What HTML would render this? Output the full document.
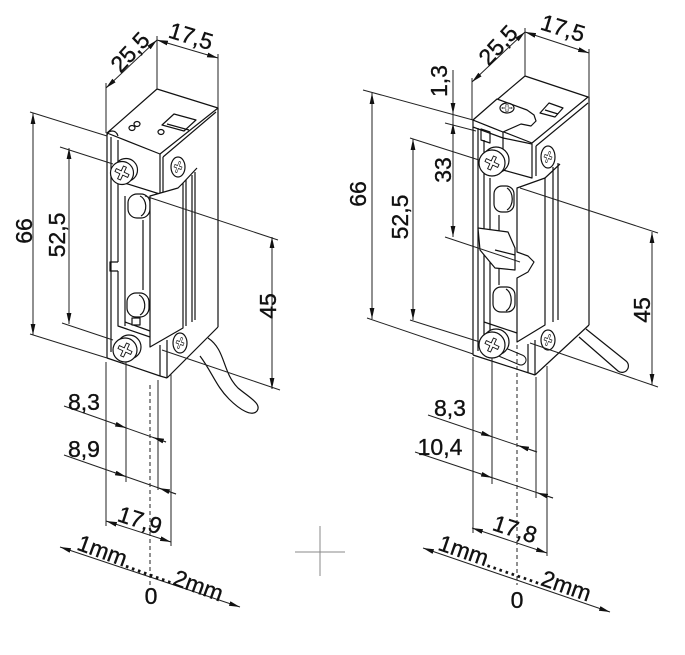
<!DOCTYPE html>
<html><head><meta charset="utf-8"><style>
html,body{margin:0;padding:0;background:#fff;}
svg{display:block;}
text{font-family:"Liberation Sans",Arial,sans-serif;font-size:23px;fill:#111;stroke:#111;stroke-width:0.35;text-anchor:middle;}
.d{stroke:#222;stroke-width:1;fill:none;}
.b{stroke:#111;stroke-width:1.2;fill:none;stroke-linejoin:round;}
.w{fill:#fff;}
</style></head><body>
<svg width="685" height="655" viewBox="0 0 685 655" xmlns="http://www.w3.org/2000/svg">
<defs>
<marker id="ar" markerUnits="userSpaceOnUse" markerWidth="11" markerHeight="6" viewBox="0 0 11 6" refX="11" refY="3" orient="auto-start-reverse"><path d="M0,0.6L11,3L0,5.4Z" fill="#111"/></marker>
<path id="cr" d="M-7,-1.6H-1.6V-7H1.6V-1.6H7V1.6H1.6V7H-1.6V1.6H-7Z" fill="#fff" stroke="#111" stroke-width="0.9"/>
</defs>

<!-- ============ LEFT DEVICE BODY ============ -->
<g class="b">
<line x1="218" y1="108" x2="218" y2="327"/>
<polygon class="w" points="107,133 157,89 218,108 160,154"/>
<line x1="163" y1="157" x2="216" y2="112"/>
<polygon points="162,125 174,114 196,120 184,131"/>
<line x1="167" y1="124" x2="189" y2="130"/>
<ellipse cx="132" cy="128" rx="3" ry="2.5"/>
<ellipse cx="137" cy="124" rx="3" ry="2.5"/>
<ellipse cx="161" cy="132" rx="3" ry="2.5"/>
<line x1="160" y1="154" x2="160" y2="193"/>
<line x1="163" y1="157" x2="163" y2="195"/>
<line x1="118" y1="181" x2="163" y2="195"/>
<line x1="107" y1="133" x2="107" y2="358"/>
<line x1="111" y1="137" x2="111" y2="352"/>
<line x1="118" y1="140" x2="118" y2="262"/>
<line x1="118" y1="271" x2="118" y2="318"/>
<polyline points="118,262 110,262 110,271 118,271"/>
<path d="M107,135 C108,130 116,129 118,136"/>
<line x1="125" y1="196" x2="125" y2="326"/>
<line x1="143" y1="220" x2="143" y2="290"/>
<polyline points="118,318 118,326 150,337"/>
<line x1="125" y1="322" x2="150" y2="331"/>
<rect class="w" x="128" y="194" width="22" height="24" rx="9"/>
<path d="M140,196 C147,199 148,212 141,216"/>
<rect class="w" x="127" y="293" width="22" height="24" rx="9"/>
<path d="M139,295 C146,298 147,311 140,315"/>
<rect class="w" x="132" y="318" width="8" height="7"/>
<polygon class="w" points="150,196 178,188 183,183 183,328 150,347"/>
<line x1="186" y1="180" x2="186" y2="326"/>
<line x1="192" y1="175" x2="192" y2="322"/>
<line x1="195" y1="172" x2="195" y2="320"/>
<line x1="183" y1="183" x2="197" y2="168"/>
<line x1="107" y1="358" x2="160" y2="376"/>
<line x1="160" y1="345" x2="160" y2="376"/>
<line x1="167" y1="340" x2="167" y2="378"/>
<line x1="160" y1="376" x2="167" y2="378"/>
<line x1="167" y1="378" x2="218" y2="327"/>
<circle class="w" cx="126" cy="170" r="11.5"/>
<circle class="w" cx="122" cy="173" r="11.5"/>
<use href="#cr" transform="translate(122 173) rotate(25)"/>
<ellipse class="w" cx="178" cy="167" rx="7" ry="10"/>
<use href="#cr" transform="translate(178 167) rotate(20) scale(0.55 0.8)"/>
<circle class="w" cx="129" cy="347" r="12"/>
<circle class="w" cx="125" cy="350" r="12"/>
<use href="#cr" transform="translate(125 350) rotate(25)"/>
<ellipse class="w" cx="180" cy="343" rx="7" ry="10"/>
<use href="#cr" transform="translate(180 343) rotate(20) scale(0.55 0.8)"/>
<path d="M208,338 C226,350 222,372 238,388 C250,398 262,404 257,411 C252,417 240,410 229,399 C216,386 212,372 200,356"/>
</g>

<!-- ============ RIGHT DEVICE BODY ============ -->
<g class="b">
<line x1="589" y1="97" x2="589" y2="325"/>
<polygon class="w" points="473,120 525,76 588,97 532,143"/>
<line x1="536" y1="146" x2="588" y2="103"/>
<polygon points="540,113 549,103 563,108 555,117"/>
<line x1="545" y1="110" x2="558" y2="114"/>
<polygon class="w" points="503,138 532,144 532,178 503,170"/>
<line x1="536" y1="146" x2="536" y2="176"/>
<polygon class="w" points="473,127 473,120 503,132 503,138"/>
<polygon class="w" points="473,120 497,99 527,110 534,115 536,121 531,126 521,124 503,132"/>
<ellipse cx="507" cy="108" rx="7" ry="5"/>
<use href="#cr" transform="translate(507 108) scale(0.7 0.5)"/>
<polygon points="481,129 490,132 490,143 481,140"/>
<line x1="473" y1="127" x2="473" y2="355"/>
<line x1="478" y1="128" x2="478" y2="351"/>
<line x1="484" y1="140" x2="484" y2="347"/>
<line x1="490" y1="178" x2="490" y2="330"/>
<line x1="499" y1="215" x2="499" y2="285"/>
<rect class="w" x="494" y="186" width="20" height="26" rx="8"/>
<path d="M507,188 C514,192 514,206 507,210"/>
<polygon class="w" points="478,228 508,232 515,248 515,270 495,268 480,250"/>
<line x1="495" y1="250" x2="515" y2="255"/>
<rect class="w" x="493" y="287" width="22" height="25" rx="8"/>
<path d="M506,289 C513,293 513,307 506,311"/>
<line x1="484" y1="322" x2="517" y2="333"/>
<path class="w" d="M517,188 L545,178 L545,325 L517,342 L517,278 L528,272 L534,262 L528,256 L517,252 Z"/>
<line x1="553" y1="167" x2="553" y2="322"/>
<line x1="558" y1="163" x2="558" y2="320"/>
<line x1="545" y1="178" x2="560" y2="164"/>
<line x1="473" y1="355" x2="535" y2="375"/>
<line x1="528" y1="344" x2="528" y2="373"/>
<line x1="535" y1="340" x2="535" y2="375"/>
<line x1="535" y1="375" x2="589" y2="325"/>
<path class="w" d="M586,329 L626,361 A6,6 0 0 1 618,371 L579,337"/>
<circle class="w" cx="496" cy="160" r="13"/>
<circle class="w" cx="492" cy="163" r="13"/>
<use href="#cr" transform="translate(492 163) rotate(25)"/>
<ellipse class="w" cx="548" cy="157" rx="7" ry="11"/>
<use href="#cr" transform="translate(548 157) rotate(20) scale(0.55 0.8)"/>
<line x1="502" y1="352" x2="521" y2="360" stroke="#111" stroke-width="11" stroke-linecap="round"/>
<line x1="502" y1="352" x2="521" y2="360" stroke="#fff" stroke-width="9" stroke-linecap="round"/>
<circle class="w" cx="496" cy="342" r="13"/>
<circle class="w" cx="492" cy="345" r="13"/>
<use href="#cr" transform="translate(492 345) rotate(25)"/>
<ellipse class="w" cx="548" cy="340" rx="7" ry="10"/>
<use href="#cr" transform="translate(548 340) rotate(20) scale(0.55 0.8)"/>
</g>

<!-- ============ LEFT DIMENSIONS ============ -->
<g class="d">
<line x1="30" y1="112" x2="107" y2="136"/>
<line x1="30" y1="334" x2="107" y2="358"/>
<line x1="60" y1="147" x2="113" y2="164"/>
<line x1="62" y1="323" x2="113" y2="340"/>
<line x1="145" y1="196" x2="278" y2="240"/>
<line x1="162" y1="350" x2="280" y2="390"/>
<line x1="106" y1="83" x2="106" y2="133"/>
<line x1="157" y1="36" x2="157" y2="89"/>
<line x1="218" y1="54" x2="218" y2="108"/>
<line x1="106" y1="362" x2="106" y2="526"/>
<line x1="126" y1="362" x2="126" y2="482"/>
<line x1="150" y1="385" x2="150" y2="588" stroke-dasharray="4,3"/>
<line x1="158" y1="380" x2="158" y2="490"/>
<line x1="171" y1="374" x2="171" y2="546"/>
<line x1="33" y1="113" x2="33" y2="335" marker-start="url(#ar)" marker-end="url(#ar)"/>
<line x1="69" y1="148" x2="69" y2="324" marker-start="url(#ar)" marker-end="url(#ar)"/>
<line x1="272" y1="237" x2="272" y2="389" marker-start="url(#ar)" marker-end="url(#ar)"/>
<line x1="106" y1="88" x2="157" y2="40" marker-start="url(#ar)" marker-end="url(#ar)"/>
<line x1="157" y1="40" x2="218" y2="58" marker-start="url(#ar)" marker-end="url(#ar)"/>
<line x1="64" y1="406" x2="166" y2="442"/>
<path d="M114,423.6 L126,427.9" marker-end="url(#ar)"/>
<path d="M166,442 L153,437.4" marker-end="url(#ar)"/>
<line x1="64" y1="455" x2="176" y2="494"/>
<path d="M114,472.4 L126,476.6" marker-end="url(#ar)"/>
<path d="M176,494 L159,488.1" marker-end="url(#ar)"/>
<line x1="106" y1="521" x2="171" y2="542" marker-start="url(#ar)" marker-end="url(#ar)"/>
<line x1="60" y1="547" x2="240" y2="607" marker-start="url(#ar)" marker-end="url(#ar)"/>
</g>

<!-- ============ RIGHT DIMENSIONS ============ -->
<g class="d">
<line x1="363" y1="90" x2="473" y2="120"/>
<line x1="367" y1="318" x2="473" y2="354"/>
<line x1="410" y1="138" x2="479" y2="160"/>
<line x1="410" y1="320" x2="480" y2="342"/>
<line x1="445" y1="123" x2="476" y2="131"/>
<line x1="445" y1="237" x2="520" y2="262"/>
<line x1="520" y1="188" x2="658" y2="233"/>
<line x1="530" y1="343" x2="658" y2="387"/>
<line x1="472" y1="78" x2="472" y2="120"/>
<line x1="525" y1="28" x2="525" y2="76"/>
<line x1="589" y1="49" x2="589" y2="97"/>
<line x1="473" y1="357" x2="473" y2="533"/>
<line x1="492" y1="358" x2="492" y2="484"/>
<line x1="517" y1="345" x2="517" y2="585" stroke-dasharray="4,3"/>
<line x1="536" y1="377" x2="536" y2="498"/>
<line x1="547" y1="366" x2="547" y2="556"/>
<line x1="372" y1="93" x2="372" y2="319" marker-start="url(#ar)" marker-end="url(#ar)"/>
<line x1="413" y1="139" x2="413" y2="320" marker-start="url(#ar)" marker-end="url(#ar)"/>
<line x1="453" y1="70" x2="453" y2="237"/>
<path d="M453,100 L453,114" marker-end="url(#ar)"/>
<path d="M453,137 L453,123" marker-end="url(#ar)"/>
<path d="M453,225 L453,237" marker-end="url(#ar)"/>
<line x1="652" y1="232" x2="652" y2="385" marker-start="url(#ar)" marker-end="url(#ar)"/>
<line x1="472" y1="82" x2="525" y2="32" marker-start="url(#ar)" marker-end="url(#ar)"/>
<line x1="525" y1="32" x2="589" y2="53" marker-start="url(#ar)" marker-end="url(#ar)"/>
<line x1="428" y1="415" x2="537" y2="452"/>
<path d="M480,432.6 L492,436.7" marker-end="url(#ar)"/>
<path d="M537,452 L518,445.5" marker-end="url(#ar)"/>
<line x1="415" y1="452" x2="553" y2="498"/>
<path d="M480,473.7 L492,477.7" marker-end="url(#ar)"/>
<path d="M553,498 L537,492.7" marker-end="url(#ar)"/>
<line x1="472" y1="528" x2="547" y2="553" marker-start="url(#ar)" marker-end="url(#ar)"/>
<line x1="423" y1="548" x2="610" y2="612" marker-start="url(#ar)" marker-end="url(#ar)"/>
</g>

<g stroke="#888" stroke-width="1">
<line x1="320" y1="526" x2="320" y2="576"/>
<line x1="295" y1="552" x2="345" y2="552"/>
</g>

<!-- ============ TEXT ============ -->
<text x="130" y="60" transform="rotate(-47 130 52)">25,5</text>
<text x="191" y="44" transform="rotate(17 191 36)">17,5</text>
<text x="24" y="239" transform="rotate(-90 24 231)">66</text>
<text x="57" y="243" transform="rotate(-90 57 235)">52,5</text>
<text x="268" y="314" transform="rotate(-90 268 306)">45</text>
<text x="84" y="410">8,3</text>
<text x="84" y="457">8,9</text>
<text x="140" y="528" transform="rotate(18 140 520)">17,9</text>
<text x="150.5" y="576" transform="rotate(20 150.5 568)">1mm........2mm</text>
<text x="151" y="604">0</text>

<text x="498" y="53" transform="rotate(-47 498 45)">25,5</text>
<text x="563" y="36" transform="rotate(17 563 28)">17,5</text>
<text x="439" y="89" transform="rotate(-90 439 81)">1,3</text>
<text x="443" y="178" transform="rotate(-90 443 170)">33</text>
<text x="358" y="202" transform="rotate(-90 358 194)">66</text>
<text x="400" y="225" transform="rotate(-90 400 217)">52,5</text>
<text x="642" y="318" transform="rotate(-90 642 310)">45</text>
<text x="450" y="416">8,3</text>
<text x="440" y="455">10,4</text>
<text x="515" y="537" transform="rotate(18 515 529)">17,8</text>
<text x="515" y="576" transform="rotate(19 515 568)">1mm.........2mm</text>
<text x="517" y="608">0</text>
</svg>
</body></html>
